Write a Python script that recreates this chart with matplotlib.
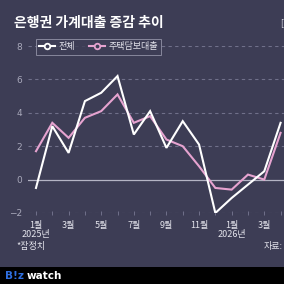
import matplotlib
matplotlib.use("Agg")
import matplotlib.pyplot as plt
from matplotlib.lines import Line2D

plt.rcParams['font.family'] = ['Noto Sans CJK KR', 'DejaVu Sans']

# monthly change, 2025-01 .. 2026-04 (trillion won)
months = list(range(16))
total = [-0.5, 3.2, 1.6, 4.7, 5.2, 6.2, 2.7, 4.1, 1.9, 3.5, 2.1, -2.0, -1.1, -0.3, 0.5, 3.4]
mortgage = [1.7, 3.4, 2.5, 3.7, 4.1, 5.1, 3.4, 3.8, 2.4, 2.0, 0.8, -0.5, -0.6, 0.3, 0.0, 2.8]
tick_labels = ["1월\n2025년", "", "3월", "", "5월", "", "7월", "", "9월", "", "11월", "",
               "1월\n2026년", "", "3월", ""]
yticks = [-2, 0, 2, 4, 6, 8]

BG = "#3d3d55"
PINK = "#e6a3d0"
GRID = "#70708a"
TXT = "#a9a9bb"

W = H = 284
fig = plt.figure(figsize=(2.84, 2.84), dpi=100, facecolor=BG)

# axes placed in pixel units
x0, x1 = 28, 284
y_top, y_bot = 46, 213
ax = fig.add_axes([x0 / W, 1 - y_bot / H, (x1 - x0) / W, (y_bot - y_top) / H])
ax.set_facecolor(BG)
ax.set_xlim(-0.49, 15.21)
ax.set_ylim(-2, 8)
for s in ax.spines.values():
    s.set_visible(False)

for v in yticks:
    if v == 0:
        ax.axhline(v, color="#b4b4c4", lw=0.9, zorder=1)
    else:
        ax.axhline(v, color=GRID, lw=0.8, ls=(0, (3, 3)), zorder=1)

ax.plot(months, mortgage, color=PINK, lw=1.5, zorder=3, solid_joinstyle="miter")
ax.plot(months, total, color="white", lw=1.5, zorder=4, solid_joinstyle="miter")

ax.set_yticks(yticks)
ax.set_yticklabels([str(v) if v >= 0 else "\u22122" for v in yticks],
                   family=['DejaVu Sans'])
ax.tick_params(axis="y", length=0, pad=4, labelsize=6.5, labelcolor=TXT)
ax.set_xticks(months)
ax.set_xticklabels(tick_labels, linespacing=1.05)
ax.tick_params(axis="x", length=3, width=0.7, color=GRID, direction="inout",
               labelsize=6.5, labelcolor="#e4e4ec", pad=4)

leg_handles = [
    Line2D([], [], color="white", lw=1.5, marker="o", markersize=4,
           markerfacecolor=BG, markeredgecolor="white", markeredgewidth=1.3),
    Line2D([], [], color=PINK, lw=1.5, marker="o", markersize=4,
           markerfacecolor=BG, markeredgecolor=PINK, markeredgewidth=1.3),
]
leg = fig.legend(leg_handles, ["전체", "주택담보대출"], loc="center left",
                 bbox_to_anchor=(36 / W, 1 - 47 / H), ncol=2, frameon=True,
                 fontsize=6.5, handlelength=1.8, handletextpad=0.3, columnspacing=1.6,
                 borderpad=0.35, borderaxespad=0, fancybox=False)
leg.get_frame().set_facecolor(BG)
leg.get_frame().set_edgecolor("#9a9aae")
leg.get_frame().set_linewidth(0.7)
for t in leg.get_texts():
    t.set_color("#e4e4ec")

fig.text(14 / W, 1 - 23 / H, "은행권 가계대출 증감 추이", color="white",
         fontsize=10, fontweight="heavy", va="center", ha="left")
fig.text(280 / W, 1 - 23 / H, "[", color="#d8d8e2",
         fontsize=6, va="center", ha="left")
fig.text(16 / W, 1 - 246 / H, "*잠정치", color="#e4e4ec", fontsize=6.5,
         va="center", ha="left")
fig.text(283 / W, 1 - 246 / H, "자료:", color="#e4e4ec", fontsize=6.5,
         va="center", ha="right")

# bottom brand band
band = fig.add_axes([0, 0, 1, 17 / H])
band.set_facecolor("black")
band.set_xticks([])
band.set_yticks([])
for s in band.spines.values():
    s.set_visible(False)
band.text(5 / W, 0.45, "B!z", color="#2f6fe0", fontsize=7.5, fontweight="bold",
          va="center", ha="left", transform=band.transAxes, family=['DejaVu Sans'])
band.text(27 / W, 0.45, "watch", color="white", fontsize=7.5, fontweight="bold",
          va="center", ha="left", transform=band.transAxes, family=['DejaVu Sans'])

fig.savefig("out.png", dpi=100, facecolor=BG)
